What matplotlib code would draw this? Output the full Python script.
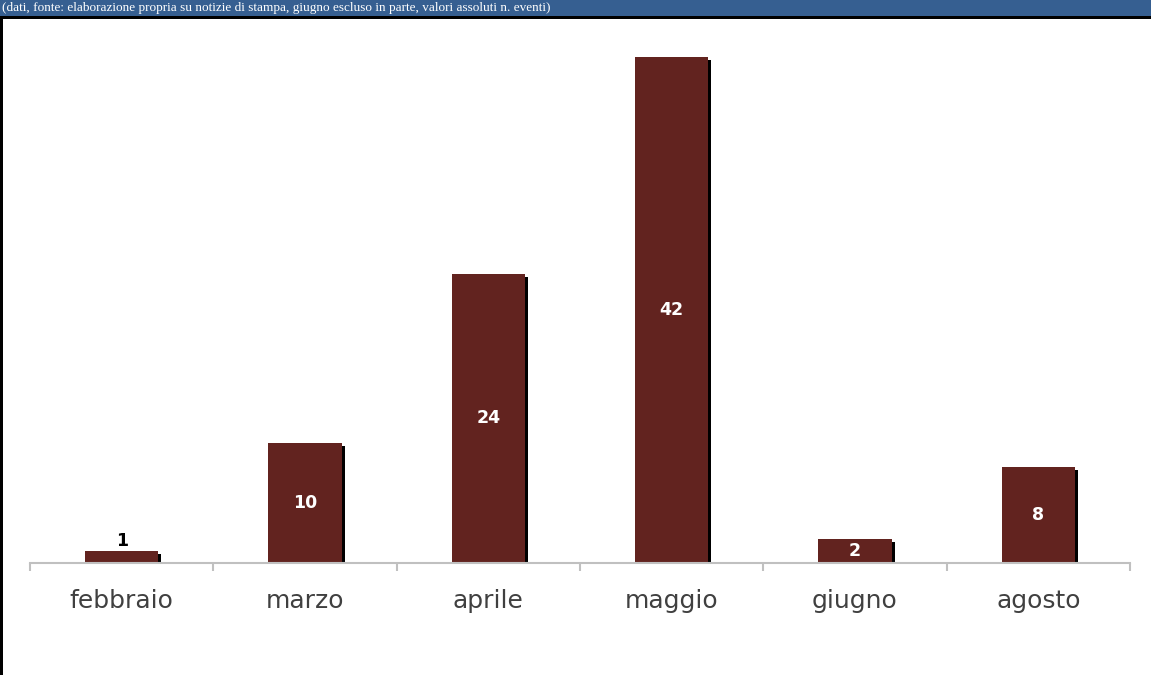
import numpy as np
import matplotlib.pyplot as plt
from matplotlib.patches import Rectangle
import matplotlib.patheffects as pe

mesi = ['febbraio', 'marzo', 'aprile', 'maggio', 'giugno', 'agosto']
valori = [1, 10, 24, 42, 2, 8]
# testo della fascia in alto (tagliato nell'originale)
intestazione = '(dati, fonte: elaborazione propria su notizie di stampa, giugno escluso in parte, valori assoluti n. eventi)'

W, H = 1151, 675
fig = plt.figure(figsize=(W / 100, H / 100), dpi=100)
fig.patch.set_facecolor('white')

# fascia blu e bordi neri
fig.patches.append(Rectangle((0, 1 - 16 / H), 1, 16 / H, transform=fig.transFigure,
                             facecolor='#365f91', edgecolor='none', zorder=0))
fig.patches.append(Rectangle((0, 1 - 19 / H), 1, 3 / H, transform=fig.transFigure,
                             facecolor='black', edgecolor='none', zorder=1))
fig.patches.append(Rectangle((0, 0), 3 / W, 1 - 16 / H, transform=fig.transFigure,
                             facecolor='black', edgecolor='none', zorder=1))
fig.text(2 / W, 1 - 8.5 / H, intestazione, color='white', fontsize=9.5,
         family='Liberation Serif', va='center', ha='left')

ax = fig.add_axes([30 / W, (H - 563) / H, 1100 / W, 543 / H])
x = np.arange(len(mesi))
bars = ax.bar(x, valori, width=0.4, color='#62231f', zorder=2)
for b in bars:
    b.set_path_effects([pe.SimplePatchShadow(offset=(2.2, -2.2), shadow_rgbFace='black', alpha=1),
                        pe.Normal()])

ax.set_xlim(-0.5, len(mesi) - 0.5)
ax.set_ylim(0, 543 / 12.05)

# etichette dei valori
for xi, v in zip(x, valori):
    if v < 2:
        ax.text(xi, v + 0.05, str(v), ha='center', va='bottom', color='black',
                fontsize=12.5, fontweight='bold')
    else:
        ax.text(xi, v / 2, str(v), ha='center', va='center', color='white',
                fontsize=12.5, fontweight='bold')

for s in ['top', 'right', 'left']:
    ax.spines[s].set_visible(False)
ax.spines['bottom'].set_color('#c0c0c0')
ax.spines['bottom'].set_linewidth(1.5)
ax.set_yticks([])
ax.set_xticks(x)
ax.set_xticklabels(mesi, fontsize=18, color='#404040')
ax.tick_params(axis='x', which='major', length=0, pad=19)
ax.set_xticks(np.arange(-0.5, len(mesi)), minor=True)
ax.tick_params(axis='x', which='minor', length=6, width=1.5, color='#c0c0c0')

fig.savefig('out.png', dpi=100)
